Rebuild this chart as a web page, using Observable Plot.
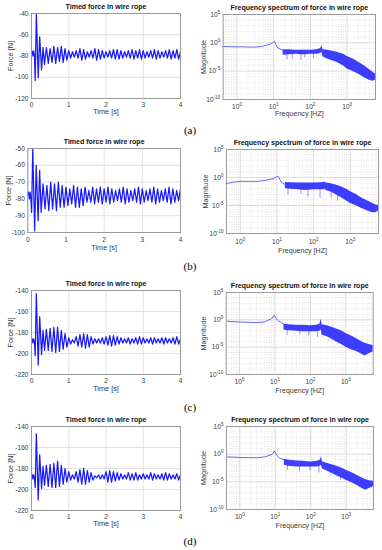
<!DOCTYPE html>
<html><head><meta charset="utf-8">
<script src="https://cdn.jsdelivr.net/npm/d3@7"></script>
<script src="https://cdn.jsdelivr.net/npm/@observablehq/plot@0.6"></script>
<style>
body{margin:0;background:#fff;}
#fig{position:relative;width:382px;height:550px;overflow:hidden;background:#fff;}
#fig svg{position:absolute;overflow:visible;}
.lab{position:absolute;font-family:"Liberation Serif","Times New Roman",serif;font-size:11px;color:#000;transform:translate(-50%,-50%);white-space:nowrap;}
</style></head><body><div id="fig"></div>
<script>
// ---------- data: time series (shared sample times, forces per case) ----------
const time = [0,0.02,0.04,0.06,0.08,0.1,0.13,0.18,0.22,0.27,0.31,0.35,
 0.4,0.45,0.5,0.55,0.6,0.65,0.7,0.75,0.8,0.85,
 0.9,0.95,1,1.05,1.1,1.15,1.2,1.25,1.3,1.35,
 1.4,1.45,1.5,1.55,1.6,1.65,1.7,1.75,1.8,1.85,
 1.9,1.95,2,2.05,2.1,2.15,2.2,2.25,2.3,2.35,
 2.4,2.45,2.5,2.55,2.6,2.65,2.7,2.75,2.8,2.85,
 2.9,2.95,3,3.05,3.1,3.15,3.2,3.25,3.3,3.35,
 3.4,3.45,3.5,3.55,3.6,3.65,3.7,3.75,3.8,3.85,
 3.9,3.95,4];
const forceA = [-78,-75.5,-80,-75.5,-80.5,-103,-40,-100.5,-62,-93,-72,-88,
 -72,-87,-73,-86,-71,-87,-72,-85,-71,-86,
 -73,-84,-75,-82,-76,-81,-75,-82,-73,-84,
 -74,-83,-76,-81,-75,-82,-73,-84,-74,-83,
 -75,-82,-76,-81,-75,-82,-74,-83,-74,-83,
 -75,-82,-76,-81,-75,-82,-74,-83,-75,-82,
 -74,-83,-75,-82,-76,-81,-75,-82,-74,-83,
 -75,-82,-76,-81,-75,-82,-74,-83,-75,-82,
 -74,-83,-76];
const forceB = [-78,-76,-80,-76,-80,-88,-50,-99,-60,-93,-63,-88,
 -71,-86,-72,-87,-70,-86,-71,-87,-70,-85,
 -72,-85,-73,-84,-74,-83,-72,-85,-73,-85,
 -74,-84,-73,-82,-75,-82,-73,-83,-74,-82,
 -73,-83,-74,-82,-73,-83,-74,-82,-75,-81,
 -74,-82,-73,-83,-74,-82,-75,-81,-74,-82,
 -73,-83,-74,-82,-75,-81,-74,-82,-73,-83,
 -74,-82,-75,-81,-74,-82,-73,-83,-74,-82,
 -75,-81,-74];
const forceC = [-188,-186,-190,-186,-190,-202,-143,-211,-165,-201,-178,-197,
 -177,-197,-176,-198,-175,-199,-175,-198,-178,-196,
 -181,-194,-185,-191,-187,-190,-184,-193,-182,-194,
 -181,-195,-182,-194,-184,-191,-186,-190,-186,-190,
 -185,-191,-184,-192,-183,-193,-183,-192,-184,-191,
 -185,-190,-186,-190,-185,-191,-186,-190,-185,-191,
 -184,-191,-185,-190,-186,-190,-185,-191,-185,-190,
 -186,-190,-185,-191,-185,-190,-186,-190,-185,-191,
 -184,-191,-186];
const forceD = [-188,-186,-190,-186,-190,-198,-147,-210,-167,-199,-178,-196,
 -177,-197,-176,-198,-175,-198,-173,-197,-177,-195,
 -180,-193,-183,-191,-186,-190,-183,-193,-181,-195,
 -180,-195,-182,-193,-184,-191,-187,-189,-186,-190,
 -186,-190,-183,-193,-182,-193,-183,-192,-184,-191,
 -185,-190,-186,-190,-184,-191,-185,-191,-184,-191,
 -186,-190,-185,-190,-186,-190,-184,-191,-185,-190,
 -186,-190,-185,-191,-184,-191,-185,-190,-186,-190,
 -185,-191,-186];
const timeTicks = [0,1,2,3,4];
const forceTicksA = [-120,-100,-80,-60,-40];
const forceTicksB = [-100,-90,-80,-70,-60,-50];
const forceTicksC = [-220,-200,-180,-160,-140];
const forceTicksD = [-220,-200,-180,-160,-140];

// ---------- data: spectra (magnitudes as base-10 exponents) ----------
const fLowA = [0.4,0.7,1,2,3,5,8,9.5,10.5,11.5,13,16,20];
const eLowA = [-0.65,-0.68,-0.7,-0.74,-0.76,-0.6,-0.25,0.05,0.3,-0.3,-0.9,-1.2,-1.5];
const fBandA = [18,25,40,60,100,150,190,205,220,300,500,800,1000,1500,2000,3000,4000,5000,5900];
const eHiA = [-1.2,-1.2,-1.3,-1.3,-1.3,-1.2,-1.0,-0.45,-1.2,-1.3,-1.6,-2.0,-2.4,-2.9,-3.4,-4.1,-4.7,-5.2,-5.5];
const eLoA = [-2.2,-2.1,-2.0,-2.1,-2.0,-2.0,-1.9,-1.6,-2.5,-2.9,-3.4,-4.1,-4.6,-5.1,-5.5,-6.2,-6.6,-6.8,-6.6];
const fSpikeA = [23,32,55,70,120];
const eSpikeA = [-3.0,-2.9,-3.1,-2.7,-2.8];

const fLowB = [0.4,0.7,1,2,3,5,8,9.5,10.5,11.5,13,17];
const eLowB = [-1.1,-0.8,-0.7,-0.7,-0.7,-0.5,-0.2,0.1,0.25,-0.1,-0.8,-1.3];
const fBandB = [17,25,40,60,100,150,190,205,220,300,500,800,1000,1500,2000,3000,4000,5000,5900];
const eHiB = [-0.9,-0.95,-1.0,-1.0,-1.0,-0.95,-0.9,-0.8,-1.0,-1.1,-1.5,-2.1,-2.5,-3.1,-3.6,-4.2,-4.6,-4.9,-5.0];
const eLoB = [-2.0,-2.1,-2.2,-2.3,-2.2,-2.2,-2.2,-2.1,-2.3,-2.6,-3.4,-4.2,-4.6,-5.1,-5.5,-6.0,-6.3,-6.3,-6.0];
const fSpikeB = [20,45,70,150,300,450];
const eSpikeB = [-3.2,-3.0,-3.5,-3.8,-3.6,-4.2];

const fLowC = [0.45,1,2,3,5,8,9.5,11,12,15,20];
const eLowC = [-0.26,-0.4,-0.45,-0.5,-0.4,0.2,0.85,0.2,-0.1,-0.5,-1.0];
const fBandC = [18,25,40,60,100,150,185,200,215,300,500,800,1000,1500,2000,3000,3500,4500,5900];
const eHiC = [-0.8,-0.9,-1.0,-1.0,-1.1,-1.0,-0.8,0.1,-0.9,-1.1,-1.6,-2.1,-2.5,-3.0,-3.45,-4.1,-4.3,-4.5,-4.7];
const eLoC = [-1.9,-2.0,-2.1,-2.2,-2.2,-2.2,-2.1,-1.8,-2.8,-3.1,-3.9,-4.6,-5.0,-5.5,-5.8,-6.4,-6.6,-6.2,-5.9];
const fSpikeC = [22,50,90,160,320,600];
const eSpikeC = [-2.9,-2.7,-3.0,-3.2,-3.9,-4.5];

const fLowD = [0.45,1,2,3,5,8,9.5,11,13,17,20];
const eLowD = [-0.5,-0.6,-0.62,-0.65,-0.5,-0.06,0.55,-0.2,-0.66,-1.0,-1.25];
const fBandD = [18,25,40,60,100,150,185,200,215,300,500,800,1000,1500,2000,3000,3500,4500,5900];
const eHiD = [-0.9,-1.1,-1.25,-1.3,-1.4,-1.3,-1.1,-0.5,-1.4,-1.7,-2.1,-2.6,-2.9,-3.4,-3.8,-4.4,-4.6,-4.8,-4.9];
const eLoD = [-2.0,-2.2,-2.3,-2.3,-2.3,-2.3,-2.2,-2.0,-2.7,-3.1,-3.8,-4.4,-4.7,-5.2,-5.6,-6.3,-6.5,-6.2,-5.9];
const fSpikeD = [22,48,95,170,350,700];
const eSpikeD = [-2.9,-3.2,-3.0,-3.4,-3.9,-4.7];

const freqTicks = [1,10,100,1000];
const magTicks = [1e-10,1e-5,1,1e5];
const caseLabels = ["(a)","(b)","(c)","(d)"];
const timeTitle = "Timed force in wire rope";
const specTitle = "Frequency spectrum of force in wire rope";

// ---------- layout ----------
const leftBoxes = [
 {top:13, bottom:98, left:31, right:180, ylab:10, tickOff:6.3, labOff:13.3},
 {top:148, bottom:232, left:27.3, right:180, ylab:8.5, tickOff:7, labOff:15.5},
 {top:290, bottom:374, left:31, right:180, ylab:10, tickOff:6.3, labOff:14},
 {top:426, bottom:510, left:31, right:180, ylab:10, tickOff:6.5, labOff:13.5}
];
const rightBoxes = [
 {top:14, bottom:99, left:222.7, right:375, ylab:203, tickOff:7.5, labOff:14.5},
 {top:149, bottom:233, left:226, right:378, ylab:205, tickOff:8.5, labOff:17.5},
 {top:292, bottom:374, left:225.7, right:372.7, ylab:203, tickOff:8.2, labOff:16.5},
 {top:426, bottom:509, left:226, right:373, ylab:203, tickOff:7.7, labOff:16.5}
];
const labelPos = [[190,130],[190,266],[190,407],[190,541]];

const fig = document.getElementById("fig");
const FONT = "'Liberation Sans', Arial, sans-serif";
const BLUE = "#0000ff";
const SVGNS = "http://www.w3.org/2000/svg";

function place(svg, left, top){
  svg.style.left = left + "px";
  svg.style.top = top + "px";
  svg.style.maxWidth = "none";
  fig.appendChild(svg);
}

// turn "10^k" tick strings into 10 with a raised exponent
function superscripts(svg){
  svg.querySelectorAll("text").forEach(t => {
    const m = /^10\^(-?\d+)$/.exec(t.textContent);
    if (!m) return;
    t.textContent = "";
    const base = document.createElementNS(SVGNS, "tspan");
    base.textContent = "10";
    const exp = document.createElementNS(SVGNS, "tspan");
    exp.textContent = m[1];
    exp.setAttribute("dy", "-3");
    exp.setAttribute("font-size", "4.6");
    t.appendChild(base);
    t.appendChild(exp);
  });
}

function timePanel(force, yTicks, box){
  const mt = 16, mb = 24, svgLeft = 0, width = 190;
  const svg = Plot.plot({
    width, height: mt + (box.bottom - box.top) + mb,
    marginTop: mt, marginBottom: mb,
    marginLeft: box.left - svgLeft, marginRight: width - (box.right - svgLeft),
    style: {fontFamily: FONT, fontSize: "6.6px", color: "#3a3a3a", background: "transparent"},
    x: {domain: [0, 4]},
    y: {domain: [yTicks[0], yTicks[yTicks.length - 1]]},
    marks: [
      Plot.gridX(timeTicks, {stroke: "#e2e2e2", strokeOpacity: 1}),
      Plot.gridY(yTicks, {stroke: "#e2e2e2", strokeOpacity: 1}),
      Plot.line(time, {x: time, y: force, stroke: BLUE, strokeWidth: 1.25, strokeOpacity: 0.9, curve: "linear"}),
      Plot.frame({stroke: "#9a9a9a"}),
      Plot.axisX(timeTicks, {tickSize: 0, tickPadding: box.tickOff - 2.4, label: null, tickFormat: d => String(d)}),
      Plot.axisY(yTicks, {tickSize: 0, tickPadding: 3, label: null, tickFormat: d => String(d)}),
      Plot.text([timeTitle], {frameAnchor: "top", dy: -6.5, lineAnchor: "middle", textAnchor: "middle", fontWeight: "bold", fontSize: 7, fill: "#111"}),
      Plot.text(["Time [s]"], {frameAnchor: "bottom", dy: box.labOff, lineAnchor: "middle", textAnchor: "middle", fontSize: 7.3, fill: "#3a3a3a"}),
      Plot.text(["Force [N]"], {frameAnchor: "left", dx: box.ylab - box.left, rotate: -90, lineAnchor: "middle", textAnchor: "middle", fontSize: 7.3, fill: "#3a3a3a"})
    ]
  });
  place(svg, svgLeft, box.top - mt);
}

const powLabel = v => "10^" + Math.round(Math.log10(v));
const xDomain = [0.42, 5900];
const minorX = d3.scaleLog().domain(xDomain).ticks(60).filter(v => !freqTicks.some(t => Math.abs(t - v) < 1e-9));
const minorY = d3.range(-9, 5).map(e => Math.pow(10, e)).filter(v => !magTicks.some(t => Math.abs(Math.log10(t) - Math.log10(v)) < 1e-9));
const p10 = e => Math.pow(10, e);

function specPanel(fLow, eLow, fBand, eHi, eLo, fSpike, eSpike, box){
  const mt = 16, mb = 24, svgLeft = 190, width = 192;
  const bandLoAt = fSpike.map(f => {
    let i = 0; while (i < fBand.length - 2 && fBand[i + 1] < f) i++;
    return Math.min(eLo[i], eLo[i + 1]) + 0.2;
  });
  const svg = Plot.plot({
    width, height: mt + (box.bottom - box.top) + mb,
    marginTop: mt, marginBottom: mb,
    marginLeft: box.left - svgLeft, marginRight: width - (box.right - svgLeft),
    style: {fontFamily: FONT, fontSize: "6.6px", color: "#3a3a3a", background: "transparent"},
    x: {type: "log", domain: xDomain},
    y: {type: "log", domain: [1e-10, 1e5]},
    marks: [
      Plot.gridX(minorX, {stroke: "#d6d6d6", strokeOpacity: 1, strokeDasharray: "1,1.5", strokeWidth: 0.6}),
      Plot.gridY(minorY, {stroke: "#d6d6d6", strokeOpacity: 1, strokeDasharray: "1,1.5", strokeWidth: 0.6}),
      Plot.gridX(freqTicks, {stroke: "#dcdcdc", strokeOpacity: 1}),
      Plot.gridY(magTicks, {stroke: "#dcdcdc", strokeOpacity: 1}),
      Plot.areaY(fBand, {x: fBand, y1: eLo.map(p10), y2: eHi.map(p10), fill: "#1414ff", fillOpacity: 0.82, curve: "linear"}),
      Plot.ruleX(fSpike, {x: fSpike, y1: bandLoAt.map(p10), y2: eSpike.map(p10), stroke: "#2a2aff", strokeWidth: 0.5}),
      Plot.line(fLow, {x: fLow, y: eLow.map(p10), stroke: "#4040ff", strokeWidth: 0.8}),
      Plot.frame({stroke: "#9a9a9a"}),
      Plot.axisX(freqTicks, {tickSize: 0, tickPadding: box.tickOff - 2.9, label: null, tickFormat: powLabel}),
      Plot.axisY(magTicks, {tickSize: 0, tickPadding: 3, label: null, tickFormat: powLabel}),
      Plot.text([specTitle], {frameAnchor: "top", dy: -6.5, lineAnchor: "middle", textAnchor: "middle", fontWeight: "bold", fontSize: 7, fill: "#111"}),
      Plot.text(["Frequency [HZ]"], {frameAnchor: "bottom", dy: box.labOff, lineAnchor: "middle", textAnchor: "middle", fontSize: 7.1, fill: "#3a3a3a"}),
      Plot.text(["Magnitude"], {frameAnchor: "left", dx: box.ylab - box.left, rotate: -90, lineAnchor: "middle", textAnchor: "middle", fontSize: 7.3, fill: "#3a3a3a"})
    ]
  });
  superscripts(svg);
  place(svg, svgLeft, box.top - mt);
}

timePanel(forceA, forceTicksA, leftBoxes[0]);
timePanel(forceB, forceTicksB, leftBoxes[1]);
timePanel(forceC, forceTicksC, leftBoxes[2]);
timePanel(forceD, forceTicksD, leftBoxes[3]);
specPanel(fLowA, eLowA, fBandA, eHiA, eLoA, fSpikeA, eSpikeA, rightBoxes[0]);
specPanel(fLowB, eLowB, fBandB, eHiB, eLoB, fSpikeB, eSpikeB, rightBoxes[1]);
specPanel(fLowC, eLowC, fBandC, eHiC, eLoC, fSpikeC, eSpikeC, rightBoxes[2]);
specPanel(fLowD, eLowD, fBandD, eHiD, eLoD, fSpikeD, eSpikeD, rightBoxes[3]);

caseLabels.forEach((t, i) => {
  const d = document.createElement("div");
  d.className = "lab";
  d.textContent = t;
  d.style.left = labelPos[i][0] + "px";
  d.style.top = labelPos[i][1] + "px";
  fig.appendChild(d);
});
</script></body></html>
